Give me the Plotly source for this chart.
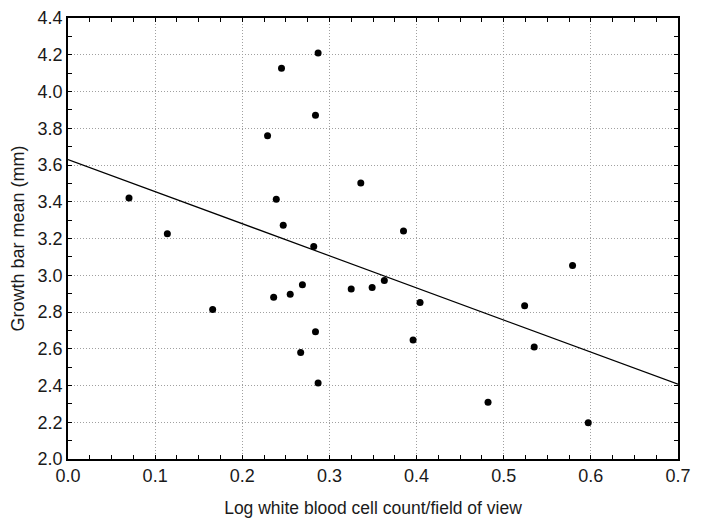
import plotly.graph_objects as go

# Scatter data (log WBC count / field of view vs growth bar mean)
wbc_log = [0.070, 0.114, 0.166, 0.229, 0.236, 0.239, 0.245, 0.247, 0.255, 0.267,
           0.269, 0.282, 0.284, 0.284, 0.287, 0.287, 0.325, 0.336, 0.349, 0.363,
           0.385, 0.396, 0.404, 0.482, 0.524, 0.535, 0.579, 0.597]
growth_mean = [3.421, 3.226, 2.813, 3.759, 2.880, 3.414, 4.127, 3.272, 2.896, 2.580,
               2.948, 3.156, 3.871, 2.692, 4.210, 2.414, 2.925, 3.502, 2.934, 2.972,
               3.241, 2.648, 2.852, 2.309, 2.834, 2.610, 3.053, 2.197]

# Regression line endpoints
fit_x = [0.0, 0.7]
fit_y = [3.630, 2.407]

x_ticks = [0.0, 0.1, 0.2, 0.3, 0.4, 0.5, 0.6, 0.7]
y_ticks = [2.0, 2.2, 2.4, 2.6, 2.8, 3.0, 3.2, 3.4, 3.6, 3.8, 4.0, 4.2, 4.4]

font_family = "Liberation Sans, Arial, sans-serif"
text_color = "#1a1a1a"

fig = go.Figure()
fig.add_trace(go.Scatter(x=fit_x, y=fit_y, mode="lines",
                         line=dict(color="black", width=1.2),
                         hoverinfo="skip", showlegend=False))
fig.add_trace(go.Scatter(x=wbc_log, y=growth_mean, mode="markers",
                         marker=dict(color="black", size=7),
                         showlegend=False))

axis_common = dict(
    showline=True, linecolor="black", linewidth=1.5, mirror="allticks",
    ticks="inside", ticklen=4, tickcolor="black", tickwidth=1,
    showgrid=True, gridcolor="#a0a0a0", gridwidth=1, griddash="1px,2px",
    zeroline=False, automargin=False, ticklabeloverflow="allow",
    tickfont=dict(family=font_family, size=18, color=text_color),
)

fig.update_xaxes(
    range=[0, 0.7], tickvals=x_ticks, ticktext=[f"{v:.1f}" for v in x_ticks],
    minor=dict(ticks="inside", dtick=0.025, tick0=0, ticklen=4, tickcolor="black", showgrid=False),
    title=dict(text="Log white blood cell count/field of view",
               font=dict(family=font_family, size=17.5, color=text_color), standoff=16),
    **axis_common,
)
fig.update_yaxes(
    range=[2.0, 4.4], tickvals=y_ticks, ticktext=[f"{v:.1f}" for v in y_ticks],
    minor=dict(ticks="inside", dtick=0.1, tick0=2.0, ticklen=4, tickcolor="black", showgrid=False),
    title=dict(text="Growth bar mean (mm)",
               font=dict(family=font_family, size=18, color=text_color), standoff=8),
    **axis_common,
)

# page body adds an 8px offset, so the figure is laid out 8px smaller
fig.update_layout(
    width=694, height=510,
    margin=dict(l=60, r=24, t=10, b=59),
    plot_bgcolor="white", paper_bgcolor="white",
    showlegend=False,
)

fig.write_html("out.html")
